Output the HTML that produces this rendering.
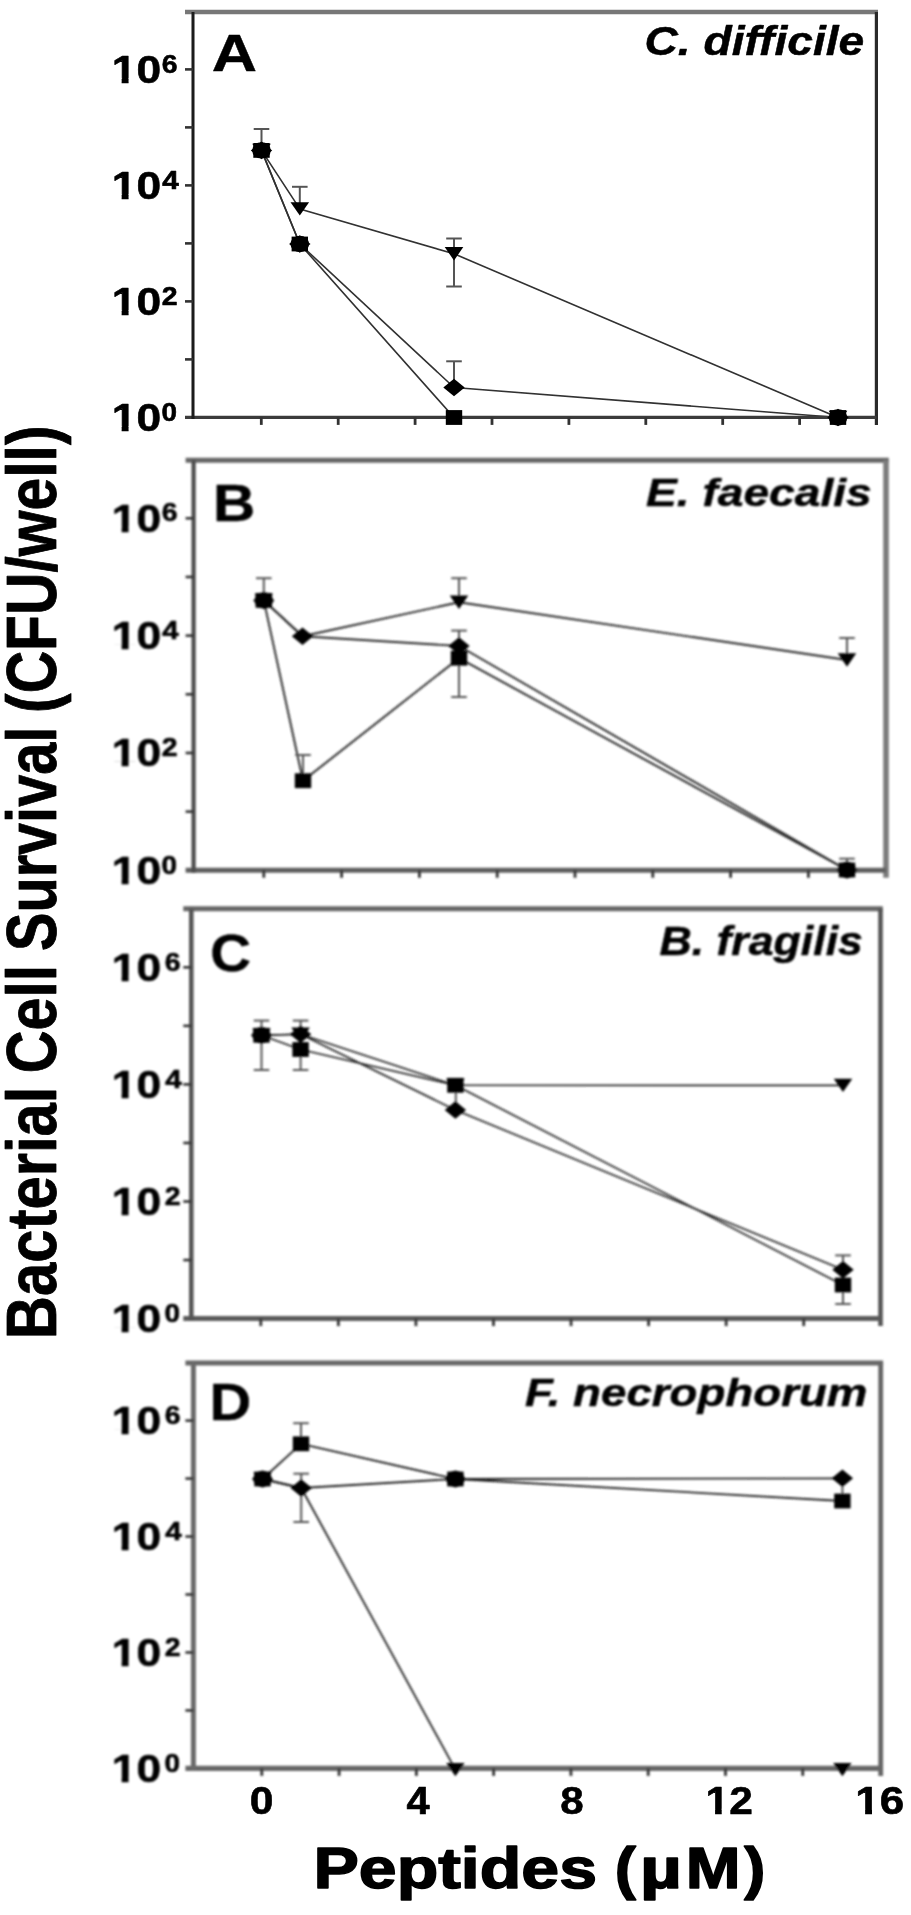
<!DOCTYPE html>
<html><head><meta charset="utf-8"><title>Bacterial Cell Survival</title>
<style>
html,body{margin:0;padding:0;background:#fff;}
body{width:911px;height:1915px;overflow:hidden;}
svg{display:block;}
svg text{font-family:"Liberation Sans",Arial,Helvetica,sans-serif;}
</style></head><body>
<svg width="911" height="1915" viewBox="0 0 911 1915">
<defs><filter id="softA" x="90" y="0" width="821" height="440" filterUnits="userSpaceOnUse"><feGaussianBlur stdDeviation="0.55"/></filter><filter id="softB" x="90" y="440" width="821" height="450" filterUnits="userSpaceOnUse"><feGaussianBlur stdDeviation="0.85"/></filter><filter id="softC" x="90" y="890" width="821" height="450" filterUnits="userSpaceOnUse"><feGaussianBlur stdDeviation="0.8"/></filter><filter id="softD" x="90" y="1340" width="821" height="445" filterUnits="userSpaceOnUse"><feGaussianBlur stdDeviation="0.8"/></filter><filter id="softT" x="0" y="400" width="911" height="1515" filterUnits="userSpaceOnUse"><feGaussianBlur stdDeviation="0.7"/></filter><clipPath id="nf0" clipPathUnits="userSpaceOnUse"><path clip-rule="evenodd" d="M-5,-47.13H117.83V19.64H-5Z M-5,-4.91H8.78V3.93H-5Z M14.88,-4.91H22.58V3.93H14.88Z"/></clipPath><clipPath id="nf1" clipPathUnits="userSpaceOnUse"><path clip-rule="evenodd" d="M-5,-46.43H116.09V19.35H-5Z M-5,-4.84H8.65V3.87H-5Z M14.67,-4.84H22.25V3.87H14.67Z"/></clipPath></defs>
<rect width="911" height="1915" fill="#fff"/>
<g id="fig">
<g id="panelA" filter="url(#softA)">
<polyline points="261.5,150.4 299.8,208.9 454.0,253.8 838.0,417.5" fill="none" stroke="#303030" stroke-width="1.6" stroke-linejoin="round"/>
<polyline points="261.5,150.4 299.8,244.0 454.0,387.5 838.0,417.5" fill="none" stroke="#303030" stroke-width="1.6" stroke-linejoin="round"/>
<polyline points="261.5,150.4 299.8,244.0 454.0,417.5 838.0,417.5" fill="none" stroke="#303030" stroke-width="1.6" stroke-linejoin="round"/>
<line x1="261.50" y1="129.00" x2="261.50" y2="150.40" stroke="#555" stroke-width="2.0" stroke-linecap="butt"/><line x1="253.70" y1="129.00" x2="269.30" y2="129.00" stroke="#555" stroke-width="2.0" stroke-linecap="butt"/>
<line x1="299.80" y1="186.80" x2="299.80" y2="208.00" stroke="#555" stroke-width="2.0" stroke-linecap="butt"/><line x1="292.00" y1="186.80" x2="307.60" y2="186.80" stroke="#555" stroke-width="2.0" stroke-linecap="butt"/>
<line x1="454.00" y1="238.50" x2="454.00" y2="286.50" stroke="#555" stroke-width="2.0" stroke-linecap="butt"/><line x1="446.20" y1="238.50" x2="461.80" y2="238.50" stroke="#555" stroke-width="2.0" stroke-linecap="butt"/><line x1="446.20" y1="286.50" x2="461.80" y2="286.50" stroke="#555" stroke-width="2.0" stroke-linecap="butt"/>
<line x1="454.00" y1="361.30" x2="454.00" y2="387.00" stroke="#555" stroke-width="2.0" stroke-linecap="butt"/><line x1="446.20" y1="361.30" x2="461.80" y2="361.30" stroke="#555" stroke-width="2.0" stroke-linecap="butt"/>
<line x1="185.00" y1="12.00" x2="878.00" y2="12.00" stroke="#777" stroke-width="4.6" stroke-linecap="butt"/>
<line x1="876.40" y1="12.00" x2="876.40" y2="424.90" stroke="#2a2a2a" stroke-width="3.2" stroke-linecap="butt"/>
<line x1="185.00" y1="417.40" x2="876.40" y2="417.40" stroke="#3a3a3a" stroke-width="3.4" stroke-linecap="butt"/>
<line x1="193.00" y1="12.00" x2="193.00" y2="419.10" stroke="#1a1a1a" stroke-width="3.0" stroke-linecap="butt"/>
<line x1="185.00" y1="359.40" x2="193.00" y2="359.40" stroke="#333" stroke-width="2.6" stroke-linecap="butt"/>
<line x1="185.00" y1="301.40" x2="193.00" y2="301.40" stroke="#333" stroke-width="2.6" stroke-linecap="butt"/>
<line x1="185.00" y1="243.40" x2="193.00" y2="243.40" stroke="#333" stroke-width="2.6" stroke-linecap="butt"/>
<line x1="185.00" y1="185.40" x2="193.00" y2="185.40" stroke="#333" stroke-width="2.6" stroke-linecap="butt"/>
<line x1="185.00" y1="127.40" x2="193.00" y2="127.40" stroke="#333" stroke-width="2.6" stroke-linecap="butt"/>
<line x1="185.00" y1="69.40" x2="193.00" y2="69.40" stroke="#333" stroke-width="2.6" stroke-linecap="butt"/>
<line x1="261.30" y1="417.40" x2="261.30" y2="424.90" stroke="#333" stroke-width="2.8" stroke-linecap="butt"/>
<line x1="338.20" y1="417.40" x2="338.20" y2="424.90" stroke="#333" stroke-width="2.8" stroke-linecap="butt"/>
<line x1="415.10" y1="417.40" x2="415.10" y2="424.90" stroke="#333" stroke-width="2.8" stroke-linecap="butt"/>
<line x1="492.00" y1="417.40" x2="492.00" y2="424.90" stroke="#333" stroke-width="2.8" stroke-linecap="butt"/>
<line x1="568.90" y1="417.40" x2="568.90" y2="424.90" stroke="#333" stroke-width="2.8" stroke-linecap="butt"/>
<line x1="645.80" y1="417.40" x2="645.80" y2="424.90" stroke="#333" stroke-width="2.8" stroke-linecap="butt"/>
<line x1="722.70" y1="417.40" x2="722.70" y2="424.90" stroke="#333" stroke-width="2.8" stroke-linecap="butt"/>
<line x1="799.60" y1="417.40" x2="799.60" y2="424.90" stroke="#333" stroke-width="2.8" stroke-linecap="butt"/>
<ellipse cx="261.50" cy="150.40" rx="9.3" ry="8.2" fill="#000"/>
<ellipse cx="299.80" cy="244.00" rx="9.3" ry="8.2" fill="#000"/>
<ellipse cx="838.00" cy="417.50" rx="9.3" ry="8.2" fill="#000"/>
<rect x="253.30" y="143.00" width="16.4" height="14.8" fill="#000"/>
<rect x="291.60" y="236.60" width="16.4" height="14.8" fill="#000"/>
<rect x="445.80" y="410.10" width="16.4" height="14.8" fill="#000"/>
<rect x="829.80" y="410.10" width="16.4" height="14.8" fill="#000"/>
<polygon points="250.80,150.40 261.50,141.60 272.20,150.40 261.50,159.20" fill="#000"/>
<polygon points="289.10,244.00 299.80,235.20 310.50,244.00 299.80,252.80" fill="#000"/>
<polygon points="443.30,387.50 454.00,378.70 464.70,387.50 454.00,396.30" fill="#000"/>
<polygon points="827.30,417.50 838.00,408.70 848.70,417.50 838.00,426.30" fill="#000"/>
<polygon points="252.20,143.70 270.80,143.70 261.50,157.10" fill="#000"/>
<polygon points="290.50,202.20 309.10,202.20 299.80,215.60" fill="#000"/>
<polygon points="444.70,247.10 463.30,247.10 454.00,260.50" fill="#000"/>
<polygon points="828.70,410.80 847.30,410.80 838.00,424.20" fill="#000"/>
<text transform="translate(111.76,82.90) scale(1.1280,1)" font-size="39.28" style="font-weight:bold;" fill="#000" stroke="#000" stroke-width="0.6" stroke-linejoin="round" clip-path="url(#nf0)">10</text>
<text transform="translate(161.63,72.60) scale(1.0809,1)" font-size="26.23" style="font-weight:bold;" fill="#000" stroke="#000" stroke-width="0.6" stroke-linejoin="round">6</text>
<text transform="translate(111.76,198.90) scale(1.1280,1)" font-size="39.28" style="font-weight:bold;" fill="#000" stroke="#000" stroke-width="0.6" stroke-linejoin="round" clip-path="url(#nf0)">10</text>
<text transform="translate(162.19,188.60) scale(1.1343,1)" font-size="26.23" style="font-weight:bold;" fill="#000" stroke="#000" stroke-width="0.6" stroke-linejoin="round">4</text>
<text transform="translate(111.76,314.90) scale(1.1280,1)" font-size="39.28" style="font-weight:bold;" fill="#000" stroke="#000" stroke-width="0.6" stroke-linejoin="round" clip-path="url(#nf0)">10</text>
<text transform="translate(161.63,304.60) scale(1.0840,1)" font-size="26.23" style="font-weight:bold;" fill="#000" stroke="#000" stroke-width="0.6" stroke-linejoin="round">2</text>
<text transform="translate(111.76,430.90) scale(1.1280,1)" font-size="39.28" style="font-weight:bold;" fill="#000" stroke="#000" stroke-width="0.6" stroke-linejoin="round" clip-path="url(#nf0)">10</text>
<text transform="translate(161.50,420.60) scale(1.0643,1)" font-size="26.23" style="font-weight:bold;" fill="#000" stroke="#000" stroke-width="0.6" stroke-linejoin="round">0</text>
<text transform="translate(211.67,70.50) scale(1.2087,1)" font-size="51.88" style="font-weight:bold;" fill="#000" stroke="#000" stroke-width="0.4" stroke-linejoin="round">A</text>
<text transform="translate(644.47,55.30) scale(1.1129,1)" font-size="41.50" style="font-weight:bold;font-style:italic;" fill="#000" stroke="#000" stroke-width="0.5" stroke-linejoin="round">C. difficile</text>
</g>
<g id="panelB" filter="url(#softB)">
<polyline points="263.8,600.4 302.5,636.3 459.0,602.3 847.0,660.0" fill="none" stroke="#262626" stroke-width="1.9" stroke-linejoin="round"/>
<polyline points="263.8,600.4 302.5,636.3 459.0,646.0 847.0,870.0" fill="none" stroke="#262626" stroke-width="1.9" stroke-linejoin="round"/>
<polyline points="263.8,600.4 303.0,780.7 459.0,658.2 847.0,870.0" fill="none" stroke="#262626" stroke-width="1.9" stroke-linejoin="round"/>
<line x1="263.80" y1="578.20" x2="263.80" y2="600.00" stroke="#555" stroke-width="2.0" stroke-linecap="butt"/><line x1="256.00" y1="578.20" x2="271.60" y2="578.20" stroke="#555" stroke-width="2.0" stroke-linecap="butt"/>
<line x1="303.00" y1="755.00" x2="303.00" y2="780.00" stroke="#555" stroke-width="2.0" stroke-linecap="butt"/><line x1="295.20" y1="755.00" x2="310.80" y2="755.00" stroke="#555" stroke-width="2.0" stroke-linecap="butt"/>
<line x1="459.00" y1="578.20" x2="459.00" y2="601.00" stroke="#555" stroke-width="2.0" stroke-linecap="butt"/><line x1="451.20" y1="578.20" x2="466.80" y2="578.20" stroke="#555" stroke-width="2.0" stroke-linecap="butt"/>
<line x1="459.00" y1="630.60" x2="459.00" y2="645.00" stroke="#555" stroke-width="2.0" stroke-linecap="butt"/><line x1="451.20" y1="630.60" x2="466.80" y2="630.60" stroke="#555" stroke-width="2.0" stroke-linecap="butt"/>
<line x1="459.00" y1="658.00" x2="459.00" y2="697.00" stroke="#555" stroke-width="2.0" stroke-linecap="butt"/><line x1="451.20" y1="697.00" x2="466.80" y2="697.00" stroke="#555" stroke-width="2.0" stroke-linecap="butt"/>
<line x1="847.00" y1="638.00" x2="847.00" y2="660.00" stroke="#555" stroke-width="2.0" stroke-linecap="butt"/><line x1="839.20" y1="638.00" x2="854.80" y2="638.00" stroke="#555" stroke-width="2.0" stroke-linecap="butt"/>
<line x1="847.00" y1="858.70" x2="847.00" y2="870.00" stroke="#555" stroke-width="2.0" stroke-linecap="butt"/><line x1="839.20" y1="858.70" x2="854.80" y2="858.70" stroke="#555" stroke-width="2.0" stroke-linecap="butt"/>
<line x1="185.60" y1="460.30" x2="888.80" y2="460.30" stroke="#666" stroke-width="5.0" stroke-linecap="butt"/>
<line x1="886.00" y1="460.30" x2="886.00" y2="877.80" stroke="#7c7c7c" stroke-width="5.6" stroke-linecap="butt"/>
<line x1="185.60" y1="870.30" x2="886.00" y2="870.30" stroke="#5e5e5e" stroke-width="5.0" stroke-linecap="butt"/>
<line x1="193.60" y1="460.30" x2="193.60" y2="872.80" stroke="#4c4c4c" stroke-width="4.2" stroke-linecap="butt"/>
<line x1="185.60" y1="811.63" x2="193.60" y2="811.63" stroke="#333" stroke-width="2.6" stroke-linecap="butt"/>
<line x1="185.60" y1="752.96" x2="193.60" y2="752.96" stroke="#333" stroke-width="2.6" stroke-linecap="butt"/>
<line x1="185.60" y1="694.29" x2="193.60" y2="694.29" stroke="#333" stroke-width="2.6" stroke-linecap="butt"/>
<line x1="185.60" y1="635.62" x2="193.60" y2="635.62" stroke="#333" stroke-width="2.6" stroke-linecap="butt"/>
<line x1="185.60" y1="576.95" x2="193.60" y2="576.95" stroke="#333" stroke-width="2.6" stroke-linecap="butt"/>
<line x1="185.60" y1="518.28" x2="193.60" y2="518.28" stroke="#333" stroke-width="2.6" stroke-linecap="butt"/>
<line x1="263.80" y1="870.30" x2="263.80" y2="877.80" stroke="#333" stroke-width="2.8" stroke-linecap="butt"/>
<line x1="341.60" y1="870.30" x2="341.60" y2="877.80" stroke="#333" stroke-width="2.8" stroke-linecap="butt"/>
<line x1="419.40" y1="870.30" x2="419.40" y2="877.80" stroke="#333" stroke-width="2.8" stroke-linecap="butt"/>
<line x1="497.20" y1="870.30" x2="497.20" y2="877.80" stroke="#333" stroke-width="2.8" stroke-linecap="butt"/>
<line x1="575.00" y1="870.30" x2="575.00" y2="877.80" stroke="#333" stroke-width="2.8" stroke-linecap="butt"/>
<line x1="652.80" y1="870.30" x2="652.80" y2="877.80" stroke="#333" stroke-width="2.8" stroke-linecap="butt"/>
<line x1="730.60" y1="870.30" x2="730.60" y2="877.80" stroke="#333" stroke-width="2.8" stroke-linecap="butt"/>
<line x1="808.40" y1="870.30" x2="808.40" y2="877.80" stroke="#333" stroke-width="2.8" stroke-linecap="butt"/>
<ellipse cx="263.80" cy="600.40" rx="9.3" ry="8.2" fill="#000"/>
<ellipse cx="847.00" cy="870.00" rx="9.3" ry="8.2" fill="#000"/>
<rect x="255.60" y="593.00" width="16.4" height="14.8" fill="#000"/>
<rect x="294.80" y="773.30" width="16.4" height="14.8" fill="#000"/>
<rect x="450.80" y="650.80" width="16.4" height="14.8" fill="#000"/>
<rect x="838.80" y="862.60" width="16.4" height="14.8" fill="#000"/>
<polygon points="253.10,600.40 263.80,591.60 274.50,600.40 263.80,609.20" fill="#000"/>
<polygon points="291.80,636.30 302.50,627.50 313.20,636.30 302.50,645.10" fill="#000"/>
<polygon points="448.30,646.00 459.00,637.20 469.70,646.00 459.00,654.80" fill="#000"/>
<polygon points="836.30,870.00 847.00,861.20 857.70,870.00 847.00,878.80" fill="#000"/>
<polygon points="254.50,593.70 273.10,593.70 263.80,607.10" fill="#000"/>
<polygon points="449.70,595.60 468.30,595.60 459.00,609.00" fill="#000"/>
<polygon points="837.70,653.30 856.30,653.30 847.00,666.70" fill="#000"/>
<text transform="translate(111.76,531.78) scale(1.1280,1)" font-size="39.28" style="font-weight:bold;" fill="#000" stroke="#000" stroke-width="0.6" stroke-linejoin="round" clip-path="url(#nf0)">10</text>
<text transform="translate(161.63,521.48) scale(1.0809,1)" font-size="26.23" style="font-weight:bold;" fill="#000" stroke="#000" stroke-width="0.6" stroke-linejoin="round">6</text>
<text transform="translate(111.76,649.12) scale(1.1280,1)" font-size="39.28" style="font-weight:bold;" fill="#000" stroke="#000" stroke-width="0.6" stroke-linejoin="round" clip-path="url(#nf0)">10</text>
<text transform="translate(162.19,638.82) scale(1.1343,1)" font-size="26.23" style="font-weight:bold;" fill="#000" stroke="#000" stroke-width="0.6" stroke-linejoin="round">4</text>
<text transform="translate(111.76,766.46) scale(1.1280,1)" font-size="39.28" style="font-weight:bold;" fill="#000" stroke="#000" stroke-width="0.6" stroke-linejoin="round" clip-path="url(#nf0)">10</text>
<text transform="translate(161.63,756.16) scale(1.0840,1)" font-size="26.23" style="font-weight:bold;" fill="#000" stroke="#000" stroke-width="0.6" stroke-linejoin="round">2</text>
<text transform="translate(111.76,883.80) scale(1.1280,1)" font-size="39.28" style="font-weight:bold;" fill="#000" stroke="#000" stroke-width="0.6" stroke-linejoin="round" clip-path="url(#nf0)">10</text>
<text transform="translate(161.50,873.50) scale(1.0643,1)" font-size="26.23" style="font-weight:bold;" fill="#000" stroke="#000" stroke-width="0.6" stroke-linejoin="round">0</text>
<text transform="translate(212.92,521.40) scale(1.1485,1)" font-size="51.01" style="font-weight:bold;" fill="#000" stroke="#000" stroke-width="0.4" stroke-linejoin="round">B</text>
<text transform="translate(645.97,505.60) scale(1.1647,1)" font-size="39.64" style="font-weight:bold;font-style:italic;" fill="#000" stroke="#000" stroke-width="0.5" stroke-linejoin="round">E. faecalis</text>
</g>
<g id="panelC" filter="url(#softC)">
<polyline points="261.5,1035.3 300.6,1034.2 455.4,1085.3 843.0,1085.4" fill="none" stroke="#222" stroke-width="1.6" stroke-linejoin="round"/>
<polyline points="261.5,1035.3 300.6,1034.2 455.4,1110.0 843.0,1269.7" fill="none" stroke="#222" stroke-width="1.6" stroke-linejoin="round"/>
<polyline points="261.5,1035.3 300.6,1049.5 455.4,1085.3 843.0,1285.0" fill="none" stroke="#222" stroke-width="1.6" stroke-linejoin="round"/>
<line x1="261.50" y1="1020.60" x2="261.50" y2="1070.00" stroke="#555" stroke-width="2.0" stroke-linecap="butt"/><line x1="253.70" y1="1020.60" x2="269.30" y2="1020.60" stroke="#555" stroke-width="2.0" stroke-linecap="butt"/><line x1="253.70" y1="1070.00" x2="269.30" y2="1070.00" stroke="#555" stroke-width="2.0" stroke-linecap="butt"/>
<line x1="300.60" y1="1020.60" x2="300.60" y2="1070.00" stroke="#555" stroke-width="2.0" stroke-linecap="butt"/><line x1="292.80" y1="1020.60" x2="308.40" y2="1020.60" stroke="#555" stroke-width="2.0" stroke-linecap="butt"/><line x1="292.80" y1="1070.00" x2="308.40" y2="1070.00" stroke="#555" stroke-width="2.0" stroke-linecap="butt"/>
<line x1="455.80" y1="1085.00" x2="455.80" y2="1110.00" stroke="#555" stroke-width="2.0" stroke-linecap="butt"/>
<line x1="843.00" y1="1255.40" x2="843.00" y2="1269.00" stroke="#555" stroke-width="2.0" stroke-linecap="butt"/><line x1="835.20" y1="1255.40" x2="850.80" y2="1255.40" stroke="#555" stroke-width="2.0" stroke-linecap="butt"/>
<line x1="843.00" y1="1285.00" x2="843.00" y2="1304.00" stroke="#555" stroke-width="2.0" stroke-linecap="butt"/><line x1="835.20" y1="1304.00" x2="850.80" y2="1304.00" stroke="#555" stroke-width="2.0" stroke-linecap="butt"/>
<line x1="183.30" y1="908.80" x2="882.80" y2="908.80" stroke="#666" stroke-width="5.0" stroke-linecap="butt"/>
<line x1="880.50" y1="908.80" x2="880.50" y2="1326.10" stroke="#555" stroke-width="4.6" stroke-linecap="butt"/>
<line x1="183.30" y1="1318.60" x2="880.50" y2="1318.60" stroke="#5a5a5a" stroke-width="5.0" stroke-linecap="butt"/>
<line x1="191.30" y1="908.80" x2="191.30" y2="1321.10" stroke="#555" stroke-width="4.6" stroke-linecap="butt"/>
<line x1="183.30" y1="1260.05" x2="191.30" y2="1260.05" stroke="#333" stroke-width="2.6" stroke-linecap="butt"/>
<line x1="183.30" y1="1201.50" x2="191.30" y2="1201.50" stroke="#333" stroke-width="2.6" stroke-linecap="butt"/>
<line x1="183.30" y1="1142.95" x2="191.30" y2="1142.95" stroke="#333" stroke-width="2.6" stroke-linecap="butt"/>
<line x1="183.30" y1="1084.40" x2="191.30" y2="1084.40" stroke="#333" stroke-width="2.6" stroke-linecap="butt"/>
<line x1="183.30" y1="1025.85" x2="191.30" y2="1025.85" stroke="#333" stroke-width="2.6" stroke-linecap="butt"/>
<line x1="183.30" y1="967.30" x2="191.30" y2="967.30" stroke="#333" stroke-width="2.6" stroke-linecap="butt"/>
<line x1="260.80" y1="1318.60" x2="260.80" y2="1326.10" stroke="#333" stroke-width="2.8" stroke-linecap="butt"/>
<line x1="338.36" y1="1318.60" x2="338.36" y2="1326.10" stroke="#333" stroke-width="2.8" stroke-linecap="butt"/>
<line x1="415.92" y1="1318.60" x2="415.92" y2="1326.10" stroke="#333" stroke-width="2.8" stroke-linecap="butt"/>
<line x1="493.48" y1="1318.60" x2="493.48" y2="1326.10" stroke="#333" stroke-width="2.8" stroke-linecap="butt"/>
<line x1="571.04" y1="1318.60" x2="571.04" y2="1326.10" stroke="#333" stroke-width="2.8" stroke-linecap="butt"/>
<line x1="648.60" y1="1318.60" x2="648.60" y2="1326.10" stroke="#333" stroke-width="2.8" stroke-linecap="butt"/>
<line x1="726.16" y1="1318.60" x2="726.16" y2="1326.10" stroke="#333" stroke-width="2.8" stroke-linecap="butt"/>
<line x1="803.72" y1="1318.60" x2="803.72" y2="1326.10" stroke="#333" stroke-width="2.8" stroke-linecap="butt"/>
<ellipse cx="261.50" cy="1035.30" rx="9.3" ry="8.2" fill="#000"/>
<rect x="253.30" y="1027.90" width="16.4" height="14.8" fill="#000"/>
<rect x="292.40" y="1042.10" width="16.4" height="14.8" fill="#000"/>
<rect x="447.20" y="1077.90" width="16.4" height="14.8" fill="#000"/>
<rect x="834.80" y="1277.60" width="16.4" height="14.8" fill="#000"/>
<polygon points="250.80,1035.30 261.50,1026.50 272.20,1035.30 261.50,1044.10" fill="#000"/>
<polygon points="289.90,1034.20 300.60,1025.40 311.30,1034.20 300.60,1043.00" fill="#000"/>
<polygon points="444.70,1110.00 455.40,1101.20 466.10,1110.00 455.40,1118.80" fill="#000"/>
<polygon points="832.30,1269.70 843.00,1260.90 853.70,1269.70 843.00,1278.50" fill="#000"/>
<polygon points="252.20,1028.60 270.80,1028.60 261.50,1042.00" fill="#000"/>
<polygon points="291.30,1027.50 309.90,1027.50 300.60,1040.90" fill="#000"/>
<polygon points="446.10,1078.60 464.70,1078.60 455.40,1092.00" fill="#000"/>
<polygon points="833.70,1078.70 852.30,1078.70 843.00,1092.10" fill="#000"/>
<text transform="translate(111.76,980.80) scale(1.1280,1)" font-size="39.28" style="font-weight:bold;" fill="#000" stroke="#000" stroke-width="0.6" stroke-linejoin="round" clip-path="url(#nf0)">10</text>
<text transform="translate(164.63,970.50) scale(1.0809,1)" font-size="26.23" style="font-weight:bold;" fill="#000" stroke="#000" stroke-width="0.6" stroke-linejoin="round">6</text>
<text transform="translate(111.76,1097.90) scale(1.1280,1)" font-size="39.28" style="font-weight:bold;" fill="#000" stroke="#000" stroke-width="0.6" stroke-linejoin="round" clip-path="url(#nf0)">10</text>
<text transform="translate(165.19,1087.60) scale(1.1343,1)" font-size="26.23" style="font-weight:bold;" fill="#000" stroke="#000" stroke-width="0.6" stroke-linejoin="round">4</text>
<text transform="translate(111.76,1215.00) scale(1.1280,1)" font-size="39.28" style="font-weight:bold;" fill="#000" stroke="#000" stroke-width="0.6" stroke-linejoin="round" clip-path="url(#nf0)">10</text>
<text transform="translate(164.63,1204.70) scale(1.0840,1)" font-size="26.23" style="font-weight:bold;" fill="#000" stroke="#000" stroke-width="0.6" stroke-linejoin="round">2</text>
<text transform="translate(111.76,1332.10) scale(1.1280,1)" font-size="39.28" style="font-weight:bold;" fill="#000" stroke="#000" stroke-width="0.6" stroke-linejoin="round" clip-path="url(#nf0)">10</text>
<text transform="translate(164.50,1321.80) scale(1.0643,1)" font-size="26.23" style="font-weight:bold;" fill="#000" stroke="#000" stroke-width="0.6" stroke-linejoin="round">0</text>
<text transform="translate(210.16,970.80) scale(1.0708,1)" font-size="52.71" style="font-weight:bold;" fill="#000" stroke="#000" stroke-width="0.4" stroke-linejoin="round">C</text>
<text transform="translate(659.38,954.60) scale(1.1109,1)" font-size="40.22" style="font-weight:bold;font-style:italic;" fill="#000" stroke="#000" stroke-width="0.5" stroke-linejoin="round">B. fragilis</text>
</g>
<g id="panelD" filter="url(#softD)">
<polyline points="262.5,1479.0 301.2,1488.0 455.4,1769.6 842.4,1769.6" fill="none" stroke="#222" stroke-width="1.8" stroke-linejoin="round"/>
<polyline points="262.5,1479.0 301.2,1488.0 455.4,1479.0 842.4,1478.3" fill="none" stroke="#222" stroke-width="1.8" stroke-linejoin="round"/>
<polyline points="262.5,1479.0 301.0,1443.8 455.4,1479.0 842.4,1501.0" fill="none" stroke="#222" stroke-width="1.8" stroke-linejoin="round"/>
<line x1="301.00" y1="1423.20" x2="301.00" y2="1443.00" stroke="#555" stroke-width="2.0" stroke-linecap="butt"/><line x1="293.20" y1="1423.20" x2="308.80" y2="1423.20" stroke="#555" stroke-width="2.0" stroke-linecap="butt"/>
<line x1="301.20" y1="1473.70" x2="301.20" y2="1522.00" stroke="#555" stroke-width="2.0" stroke-linecap="butt"/><line x1="293.40" y1="1473.70" x2="309.00" y2="1473.70" stroke="#555" stroke-width="2.0" stroke-linecap="butt"/><line x1="293.40" y1="1522.00" x2="309.00" y2="1522.00" stroke="#555" stroke-width="2.0" stroke-linecap="butt"/>
<line x1="842.40" y1="1478.00" x2="842.40" y2="1501.00" stroke="#555" stroke-width="2.0" stroke-linecap="butt"/>
<line x1="185.40" y1="1362.90" x2="883.10" y2="1362.90" stroke="#666" stroke-width="5.0" stroke-linecap="butt"/>
<line x1="880.70" y1="1362.90" x2="880.70" y2="1775.90" stroke="#666" stroke-width="4.8" stroke-linecap="butt"/>
<line x1="185.40" y1="1768.40" x2="880.70" y2="1768.40" stroke="#666" stroke-width="5.2" stroke-linecap="butt"/>
<line x1="193.40" y1="1362.90" x2="193.40" y2="1771.00" stroke="#6a6a6a" stroke-width="5.0" stroke-linecap="butt"/>
<line x1="185.40" y1="1710.43" x2="193.40" y2="1710.43" stroke="#333" stroke-width="2.6" stroke-linecap="butt"/>
<line x1="185.40" y1="1652.46" x2="193.40" y2="1652.46" stroke="#333" stroke-width="2.6" stroke-linecap="butt"/>
<line x1="185.40" y1="1594.49" x2="193.40" y2="1594.49" stroke="#333" stroke-width="2.6" stroke-linecap="butt"/>
<line x1="185.40" y1="1536.52" x2="193.40" y2="1536.52" stroke="#333" stroke-width="2.6" stroke-linecap="butt"/>
<line x1="185.40" y1="1478.55" x2="193.40" y2="1478.55" stroke="#333" stroke-width="2.6" stroke-linecap="butt"/>
<line x1="185.40" y1="1420.58" x2="193.40" y2="1420.58" stroke="#333" stroke-width="2.6" stroke-linecap="butt"/>
<line x1="261.80" y1="1768.40" x2="261.80" y2="1775.90" stroke="#333" stroke-width="2.8" stroke-linecap="butt"/>
<line x1="339.08" y1="1768.40" x2="339.08" y2="1775.90" stroke="#333" stroke-width="2.8" stroke-linecap="butt"/>
<line x1="416.36" y1="1768.40" x2="416.36" y2="1775.90" stroke="#333" stroke-width="2.8" stroke-linecap="butt"/>
<line x1="493.64" y1="1768.40" x2="493.64" y2="1775.90" stroke="#333" stroke-width="2.8" stroke-linecap="butt"/>
<line x1="570.92" y1="1768.40" x2="570.92" y2="1775.90" stroke="#333" stroke-width="2.8" stroke-linecap="butt"/>
<line x1="648.20" y1="1768.40" x2="648.20" y2="1775.90" stroke="#333" stroke-width="2.8" stroke-linecap="butt"/>
<line x1="725.48" y1="1768.40" x2="725.48" y2="1775.90" stroke="#333" stroke-width="2.8" stroke-linecap="butt"/>
<line x1="802.76" y1="1768.40" x2="802.76" y2="1775.90" stroke="#333" stroke-width="2.8" stroke-linecap="butt"/>
<ellipse cx="262.50" cy="1479.00" rx="9.3" ry="8.2" fill="#000"/>
<ellipse cx="455.40" cy="1479.00" rx="9.3" ry="8.2" fill="#000"/>
<rect x="254.30" y="1471.60" width="16.4" height="14.8" fill="#000"/>
<rect x="292.80" y="1436.40" width="16.4" height="14.8" fill="#000"/>
<rect x="447.20" y="1471.60" width="16.4" height="14.8" fill="#000"/>
<rect x="834.20" y="1493.60" width="16.4" height="14.8" fill="#000"/>
<polygon points="251.80,1479.00 262.50,1470.20 273.20,1479.00 262.50,1487.80" fill="#000"/>
<polygon points="290.50,1488.00 301.20,1479.20 311.90,1488.00 301.20,1496.80" fill="#000"/>
<polygon points="444.70,1479.00 455.40,1470.20 466.10,1479.00 455.40,1487.80" fill="#000"/>
<polygon points="831.70,1478.30 842.40,1469.50 853.10,1478.30 842.40,1487.10" fill="#000"/>
<polygon points="253.20,1472.30 271.80,1472.30 262.50,1485.70" fill="#000"/>
<polygon points="446.10,1762.90 464.70,1762.90 455.40,1776.30" fill="#000"/>
<polygon points="833.10,1762.90 851.70,1762.90 842.40,1776.30" fill="#000"/>
<text transform="translate(111.76,1434.08) scale(1.1280,1)" font-size="39.28" style="font-weight:bold;" fill="#000" stroke="#000" stroke-width="0.6" stroke-linejoin="round" clip-path="url(#nf0)">10</text>
<text transform="translate(164.63,1423.78) scale(1.0809,1)" font-size="26.23" style="font-weight:bold;" fill="#000" stroke="#000" stroke-width="0.6" stroke-linejoin="round">6</text>
<text transform="translate(111.76,1550.02) scale(1.1280,1)" font-size="39.28" style="font-weight:bold;" fill="#000" stroke="#000" stroke-width="0.6" stroke-linejoin="round" clip-path="url(#nf0)">10</text>
<text transform="translate(165.19,1539.72) scale(1.1343,1)" font-size="26.23" style="font-weight:bold;" fill="#000" stroke="#000" stroke-width="0.6" stroke-linejoin="round">4</text>
<text transform="translate(111.76,1665.96) scale(1.1280,1)" font-size="39.28" style="font-weight:bold;" fill="#000" stroke="#000" stroke-width="0.6" stroke-linejoin="round" clip-path="url(#nf0)">10</text>
<text transform="translate(164.63,1655.66) scale(1.0840,1)" font-size="26.23" style="font-weight:bold;" fill="#000" stroke="#000" stroke-width="0.6" stroke-linejoin="round">2</text>
<text transform="translate(111.76,1781.90) scale(1.1280,1)" font-size="39.28" style="font-weight:bold;" fill="#000" stroke="#000" stroke-width="0.6" stroke-linejoin="round" clip-path="url(#nf0)">10</text>
<text transform="translate(164.50,1771.60) scale(1.0643,1)" font-size="26.23" style="font-weight:bold;" fill="#000" stroke="#000" stroke-width="0.6" stroke-linejoin="round">0</text>
<text transform="translate(209.46,1419.80) scale(1.1112,1)" font-size="52.03" style="font-weight:bold;" fill="#000" stroke="#000" stroke-width="0.4" stroke-linejoin="round">D</text>
<text transform="translate(524.88,1405.50) scale(1.1918,1)" font-size="38.33" style="font-weight:bold;font-style:italic;" fill="#000" stroke="#000" stroke-width="0.5" stroke-linejoin="round">F. necrophorum</text>
</g>
<g id="titles" filter="url(#softT)">
<text transform="translate(249.73,1813.60) scale(1.1011,1)" font-size="38.70" style="font-weight:bold;" fill="#000" stroke="#000" stroke-width="0.6" stroke-linejoin="round">0</text>
<text transform="translate(406.40,1813.60) scale(1.0750,1)" font-size="38.70" style="font-weight:bold;" fill="#000" stroke="#000" stroke-width="0.6" stroke-linejoin="round">4</text>
<text transform="translate(560.26,1813.60) scale(1.0884,1)" font-size="38.70" style="font-weight:bold;" fill="#000" stroke="#000" stroke-width="0.6" stroke-linejoin="round">8</text>
<text transform="translate(705.57,1813.60) scale(1.0990,1)" font-size="38.70" style="font-weight:bold;" fill="#000" stroke="#000" stroke-width="0.6" stroke-linejoin="round" clip-path="url(#nf1)">12</text>
<text transform="translate(855.28,1813.60) scale(1.1390,1)" font-size="38.70" style="font-weight:bold;" fill="#000" stroke="#000" stroke-width="0.6" stroke-linejoin="round" clip-path="url(#nf1)">16</text>
<text transform="translate(313.46,1887.60) scale(1.1781,1)" font-size="57.75" style="font-weight:bold;" fill="#000" stroke="#000" stroke-width="1.5" stroke-linejoin="round">Peptides</text>
<text transform="translate(614.85,1887.60) scale(1.0978,1)" font-size="57.75" style="font-weight:bold;" fill="#000" stroke="#000" stroke-width="1.5" stroke-linejoin="round">(</text>
<text transform="translate(640.02,1887.60) scale(1.2587,1)" font-size="57.75" style="font-weight:bold;" fill="#000" stroke="#000" stroke-width="1.5" stroke-linejoin="round">µ</text>
<text transform="translate(685.78,1887.60) scale(1.1401,1)" font-size="57.75" style="font-weight:bold;" fill="#000" stroke="#000" stroke-width="1.5" stroke-linejoin="round">M</text>
<text transform="translate(744.31,1887.60) scale(1.0978,1)" font-size="57.75" style="font-weight:bold;" fill="#000" stroke="#000" stroke-width="1.5" stroke-linejoin="round">)</text>
<text transform="translate(56.2,1335.6) rotate(-90) translate(-3.55,0.00) scale(0.8499,1)" font-size="70.34" style="font-weight:bold;" fill="#000" stroke="#000" stroke-width="0.8" stroke-linejoin="round">Bacterial</text>
<text transform="translate(56.2,1071.3) rotate(-90) translate(-2.03,0.00) scale(0.8424,1)" font-size="70.34" style="font-weight:bold;" fill="#000" stroke="#000" stroke-width="0.8" stroke-linejoin="round">Cell</text>
<text transform="translate(56.2,949.6) rotate(-90) translate(-1.40,0.00) scale(0.8194,1)" font-size="70.34" style="font-weight:bold;" fill="#000" stroke="#000" stroke-width="0.8" stroke-linejoin="round">Survival</text>
<text transform="translate(56.2,710.3) rotate(-90) translate(-2.61,0.00) scale(0.8358,1)" font-size="70.34" style="font-weight:bold;" fill="#000" stroke="#000" stroke-width="0.8" stroke-linejoin="round">(CFU/well)</text>
</g>
</g>
</svg>
</body></html>
